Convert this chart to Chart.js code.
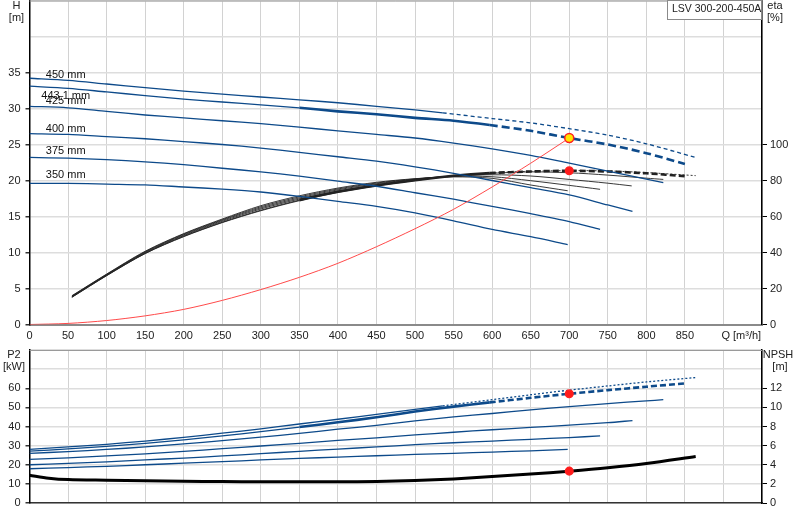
<!DOCTYPE html>
<html>
<head>
<meta charset="utf-8">
<script src="https://cdn.jsdelivr.net/npm/chart.js@4.4.1/dist/chart.umd.min.js"></script>
<style>
  body { margin: 0; background: #fff; }
  #top { position: absolute; left: 0; top: 0; width: 800px; height: 345px; }
  #bottom { position: absolute; left: 0; top: 345px; width: 800px; height: 175px; }
</style>
</head>
<body>
<div id="top"><canvas id="headChart"></canvas></div>
<div id="bottom"><canvas id="powerChart"></canvas></div>
<script>
// impeller diameters, top to bottom
const diameters = ['450 mm', '443.1 mm', '425 mm', '400 mm', '375 mm', '350 mm'];

// Q [m3/h], H [m], P2 [kW] per diameter
const q450 = [0, 50, 100, 150, 200, 250, 300, 350, 400, 450, 500, 536, 600, 650, 700, 750, 800, 864];
const h450 = [34.2, 33.9, 33.4, 32.9, 32.4, 32.0, 31.6, 31.2, 30.8, 30.3, 29.8, 29.4, 28.6, 28.0, 27.2, 26.3, 25.1, 23.2];
const p450 = [28.0, 29.3, 30.7, 32.4, 34.3, 36.5, 38.8, 41.3, 43.8, 46.3, 49.0, 50.8, 54.0, 56.6, 59.0, 61.2, 63.3, 65.6];

const q443 = [0, 50, 100, 150, 200, 250, 300, 350, 400, 450, 500, 550, 597, 650, 700, 750, 800, 850];
const h443 = [33.1, 32.8, 32.3, 31.8, 31.3, 30.9, 30.5, 30.1, 29.6, 29.2, 28.7, 28.3, 27.7, 26.9, 25.9, 25.0, 23.8, 22.3];
const p443 = [27.1, 28.3, 29.6, 31.2, 33.0, 35.1, 37.3, 39.7, 42.2, 44.8, 47.8, 50.4, 52.6, 55.0, 57.1, 59.0, 60.8, 62.5];

const q425 = [0, 50, 100, 150, 200, 250, 300, 350, 400, 450, 500, 550, 600, 650, 700, 750, 800, 822];
const h425 = [30.3, 30.1, 29.6, 29.1, 28.7, 28.3, 27.9, 27.4, 26.9, 26.4, 25.9, 25.2, 24.4, 23.5, 22.4, 21.3, 20.2, 19.7];
const p425 = [25.9, 26.9, 28.0, 29.3, 30.9, 32.6, 34.4, 36.4, 38.6, 40.6, 42.9, 45.0, 46.8, 48.7, 50.4, 52.0, 53.4, 54.0];

const q400 = [0, 50, 100, 150, 200, 250, 300, 350, 400, 450, 500, 550, 600, 650, 700, 750, 782];
const h400 = [26.5, 26.4, 26.1, 25.8, 25.4, 25.0, 24.5, 23.9, 23.3, 22.7, 21.9, 21.0, 20.0, 19.0, 18.0, 16.6, 15.7];
const p400 = [22.8, 23.6, 24.6, 25.7, 27.0, 28.4, 29.8, 31.2, 32.7, 34.1, 35.6, 37.0, 38.3, 39.5, 40.7, 42.0, 43.1];

const q375 = [0, 50, 100, 150, 200, 250, 300, 350, 400, 450, 500, 550, 600, 650, 700, 740];
const h375 = [23.2, 23.1, 22.9, 22.6, 22.2, 21.7, 21.2, 20.6, 19.9, 19.2, 18.3, 17.4, 16.4, 15.4, 14.3, 13.2];
const p375 = [20.0, 20.7, 21.5, 22.5, 23.5, 24.6, 25.8, 27.0, 28.2, 29.3, 30.5, 31.5, 32.4, 33.3, 34.2, 35.1];

const q350 = [0, 50, 100, 150, 200, 250, 300, 350, 400, 450, 500, 550, 600, 650, 698];
const h350 = [19.6, 19.6, 19.5, 19.4, 19.1, 18.8, 18.4, 17.8, 17.1, 16.4, 15.5, 14.4, 13.2, 12.2, 11.1];
const p350 = [17.9, 18.5, 19.2, 20.0, 20.8, 21.6, 22.5, 23.3, 24.0, 24.7, 25.4, 26.0, 26.6, 27.3, 28.0];

// efficiency [%]
const qe450 = [55, 100, 150, 200, 250, 300, 350, 400, 450, 500, 536, 600, 650, 700, 750, 800, 864];
const eta450 = [15.1, 27.1, 39.4, 48.8, 56.6, 63.2, 68.8, 73.4, 77.0, 80.0, 81.9, 84.2, 85.1, 85.5, 85.3, 84.4, 82.7];
const qe443 = [55, 100, 150, 200, 250, 300, 350, 400, 450, 500, 550, 597, 650, 700, 750, 800, 850];
const eta443 = [15.2, 27.2, 39.5, 49.0, 56.8, 63.5, 69.1, 73.7, 77.2, 80.1, 82.6, 84.1, 85.0, 85.4, 85.0, 84.0, 82.4];
const qe425 = [55, 100, 150, 200, 250, 300, 350, 400, 450, 500, 550, 600, 650, 700, 750, 800, 822];
const eta425 = [15.4, 27.4, 39.8, 49.4, 57.3, 64.2, 69.7, 74.2, 77.7, 80.4, 82.6, 84.0, 84.8, 84.3, 83.0, 81.3, 80.6];
const qe400 = [55, 100, 150, 200, 250, 300, 350, 400, 450, 500, 550, 600, 650, 700, 750, 781];
const eta400 = [15.6, 27.6, 40.1, 49.8, 57.8, 64.8, 70.3, 74.8, 78.2, 80.7, 82.5, 83.2, 82.5, 80.6, 78.5, 77.0];
const qe375 = [55, 100, 150, 200, 250, 300, 350, 400, 450, 500, 550, 600, 650, 700, 740];
const eta375 = [15.8, 27.8, 40.4, 50.2, 58.2, 65.4, 70.9, 75.3, 78.6, 80.9, 82.3, 82.1, 79.9, 77.3, 75.1];
const qe350 = [55, 100, 150, 200, 250, 300, 350, 400, 450, 500, 550, 600, 650, 698];
const eta350 = [16.0, 28.0, 40.7, 50.5, 58.6, 66.0, 71.5, 75.8, 79.0, 81.0, 82.0, 81.2, 77.5, 74.3];

// NPSH [m]
const qNpsh = [0, 25, 50, 100, 150, 200, 250, 300, 350, 400, 450, 500, 550, 600, 650, 700, 750, 800, 864];
const npsh = [2.9, 2.6, 2.45, 2.38, 2.32, 2.27, 2.24, 2.22, 2.21, 2.22, 2.25, 2.35, 2.52, 2.76, 3.03, 3.33, 3.68, 4.12, 4.86];

// system curve
const sysQ = [0, 50, 100, 150, 200, 250, 300, 350, 400, 450, 500, 550, 600, 650, 700];
const sysH = [0, 0.15, 0.55, 1.2, 2.1, 3.35, 4.85, 6.55, 8.5, 10.8, 13.3, 16.0, 19.1, 22.4, 25.9];

// duty point
const dutyQ = 700, dutyH = 25.9, dutyEta = 85.4, dutyP2 = 57.1, dutyNpsh = 3.33;

const headCurves = [[q450, h450], [q443, h443], [q425, h425], [q400, h400], [q375, h375], [q350, h350]];
const powerCurves = [[q450, p450], [q443, p443], [q425, p425], [q400, p400], [q375, p375], [q350, p350]];
const etaCurves = [[qe450, eta450], [qe443, eta443], [qe425, eta425], [qe400, eta400], [qe375, eta375], [qe350, eta350]];

// line styles per diameter
const looks = [
  { dashFrom: 536, dash: [4, 3], pDash: [2, 2] },
  { dashFrom: 597, dash: [8, 4], pDash: [6, 3], thickFrom: 350, thick: 2.6 },
  {}, {}, {}, {}
];
const labelDy = [0, 13, -2, -2, -3, -5];

const BLUE = '#0d4a8a';
const FONT = '"Liberation Sans", Arial, sans-serif';
Chart.defaults.font.family = FONT;
Chart.defaults.font.size = 11;
Chart.defaults.color = '#222';

const pts = (qs, vs) => qs.map((q, i) => ({ x: q, y: vs[i] }));

function line(qs, vs, color, width, axis, look, dashKey) {
  look = look || {};
  return {
    data: pts(qs, vs),
    yAxisID: axis,
    showLine: true,
    pointRadius: 0,
    borderColor: color,
    borderWidth: width,
    tension: 0.3,
    segment: {
      borderDash: c => (look.dashFrom != null && c.p0.parsed.x >= look.dashFrom) ? look[dashKey] : undefined,
      borderWidth: c => (look.thickFrom != null && c.p0.parsed.x >= look.thickFrom) ? look.thick : undefined
    }
  };
}

function dot(x, y, axis, fill) {
  return {
    data: [{ x: x, y: y }],
    yAxisID: axis,
    order: -1,
    pointRadius: fill === '#ffe600' ? 4.5 : 3.8,
    backgroundColor: fill,
    borderColor: '#ff2020',
    borderWidth: 1.5
  };
}

function noPad(s) {
  s.paddingTop = 0; s.paddingBottom = 0; s.paddingLeft = 0; s.paddingRight = 0;
}

const xScale = (showLabels, h) => ({
  type: 'linear', min: 0, max: 950,
  ticks: { stepSize: 50, autoSkip: false, maxRotation: 0, display: showLabels, padding: 5,
           callback: v => v <= 850 ? v : '' },
  grid: { color: '#d2d2d2', drawTicks: false },
  border: { color: showLabels ? '#8a8a8a' : '#333', width: showLabels ? 2 : 1.5 },
  afterFit: s => { s.height = h; noPad(s); }
});

const yScale = (pos, max, step, lastLabel, w, grid) => ({
  position: pos, min: 0, max: max,
  ticks: { stepSize: step, padding: pos === 'left' ? 5 : 3, callback: v => v <= lastLabel ? v : '' },
  grid: grid
    ? { color: '#dddddd', lineWidth: 1.5, tickLength: 4, tickColor: c => c.tick && c.tick.value <= lastLabel ? '#333' : 'rgba(0,0,0,0)' }
    : { drawOnChartArea: false, tickLength: 5, tickColor: c => c.tick && c.tick.value <= lastLabel ? '#000' : 'rgba(0,0,0,0)' },
  border: { color: '#000', width: 1.5 },
  afterFit: s => { s.width = w; noPad(s); }
});

function txt(ctx, s, x, y, align) {
  ctx.textAlign = align || 'center';
  ctx.fillText(s, x, y);
}

const headText = {
  id: 'headText',
  afterDraw(chart) {
    const { ctx, chartArea: a, scales } = chart;
    ctx.save();
    ctx.strokeStyle = '#9a9a9a';
    ctx.lineWidth = 1;
    ctx.beginPath();
    ctx.moveTo(a.left, a.top + 0.5);
    ctx.lineTo(a.right, a.top + 0.5);
    ctx.stroke();

    ctx.font = '11px ' + FONT;
    ctx.fillStyle = '#222';
    ctx.textBaseline = 'middle';
    txt(ctx, 'H', 16.5, 5.5);
    txt(ctx, '[m]', 16.5, 17.5);
    txt(ctx, 'eta', 775, 5.5);
    txt(ctx, '[%]', 775, 17.5);
    txt(ctx, 'Q [m³/h]', scales.x.getPixelForValue(900) - 2, a.bottom + 11, 'left');

    // product box
    ctx.fillStyle = '#fff';
    ctx.fillRect(667.5, 0.5, 94, 19);
    ctx.strokeStyle = '#8a8a8a';
    ctx.strokeRect(667.5, 0.5, 94, 19);
    ctx.fillStyle = '#222';
    ctx.font = '10.5px ' + FONT;
    txt(ctx, 'LSV 300-200-450A', 672, 9.5, 'left');

    // diameter labels
    ctx.font = '11px ' + FONT;
    ctx.textBaseline = 'alphabetic';
    ctx.fillStyle = '#111';
    diameters.forEach((d, i) => {
      const y = scales.y.getPixelForValue(headCurves[i][1][0]) + labelDy[i];
      txt(ctx, d, scales.x.getPixelForValue(47), y);
    });
    ctx.restore();
  }
};

const powerText = {
  id: 'powerText',
  afterDraw(chart) {
    const { ctx, chartArea: a } = chart;
    ctx.save();
    ctx.strokeStyle = '#9a9a9a';
    ctx.lineWidth = 1;
    ctx.beginPath();
    ctx.moveTo(a.left, a.top + 0.5);
    ctx.lineTo(a.right, a.top + 0.5);
    ctx.stroke();
    ctx.font = '11px ' + FONT;
    ctx.fillStyle = '#222';
    ctx.textBaseline = 'middle';
    txt(ctx, 'P2', 14, 10);
    txt(ctx, '[kW]', 14, 21.5);
    txt(ctx, 'NPSH', 778, 10);
    txt(ctx, '[m]', 780, 21.5);
    ctx.restore();
  }
};

// head + efficiency chart
const headSets = [
  dot(dutyQ, dutyH, 'y', '#ffe600'),
  dot(dutyQ, dutyEta, 'y1', '#ff1a1a'),
  line(sysQ, sysH, '#ff4a4a', 1, 'y')
];
headCurves.forEach((c, i) => headSets.push(line(c[0], c[1], BLUE, 1.3, 'y', looks[i], 'dash')));
etaCurves.forEach((c, i) => headSets.push(line(c[0], c[1], '#222', 0.9, 'y1', looks[i], 'pDash')));

new Chart(document.getElementById('headChart'), {
  type: 'scatter',
  data: { datasets: headSets },
  options: {
    responsive: true, maintainAspectRatio: false, animation: false,
    layout: { padding: { top: 0.5, left: 0, right: 0, bottom: 0 }, autoPadding: false },
    plugins: { legend: { display: false }, tooltip: { enabled: false } },
    scales: {
      x: xScale(true, 20.5),
      y: yScale('left', 45, 5, 35, 29.5, true),
      y1: yScale('right', 180, 20, 100, 38, false)
    }
  },
  plugins: [headText]
});

// power + NPSH chart
const powerSets = [
  dot(dutyQ, dutyP2, 'y', '#ff1a1a'),
  dot(dutyQ, dutyNpsh, 'y1', '#ff1a1a'),
  line(qNpsh, npsh, '#000', 3, 'y1')
];
powerCurves.forEach((c, i) => powerSets.push(line(c[0], c[1], BLUE, 1.3, 'y', looks[i], 'pDash')));

new Chart(document.getElementById('powerChart'), {
  type: 'scatter',
  data: { datasets: powerSets },
  options: {
    responsive: true, maintainAspectRatio: false, animation: false,
    layout: { padding: { top: 5, left: 0, right: 0, bottom: 0 }, autoPadding: false },
    plugins: { legend: { display: false }, tooltip: { enabled: false } },
    scales: {
      x: xScale(false, 17),
      y: yScale('left', 80, 10, 60, 29.5, true),
      y1: yScale('right', 16, 2, 12, 38, false)
    }
  },
  plugins: [powerText]
});
</script>
</body>
</html>
